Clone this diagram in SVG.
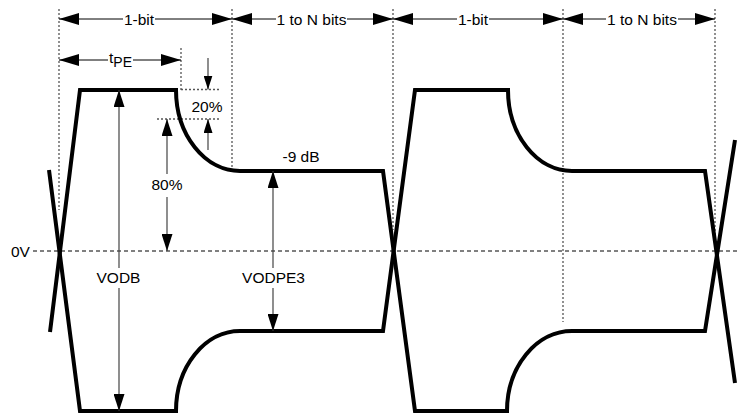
<svg xmlns="http://www.w3.org/2000/svg" width="739" height="413" viewBox="0 0 739 413">
<style>
text{font-family:"Liberation Sans",Arial,sans-serif;font-size:15.5px;fill:#000}
.mid{text-anchor:middle}
.dot{stroke:#555;stroke-width:1.3;stroke-dasharray:2,2;fill:none}
.zero{stroke:#000;stroke-width:1;stroke-dasharray:4,3;fill:none}
.dim{stroke:#000;stroke-width:1;fill:none}
.vdim{stroke:#444;stroke-width:1.2;fill:none}
.wave{stroke:#000;stroke-width:4;fill:none;stroke-linejoin:miter}
</style>
<defs>
<marker id="ah" viewBox="0 0 20 12" refX="20" refY="6" markerWidth="20" markerHeight="12" markerUnits="userSpaceOnUse" orient="auto-start-reverse"><path d="M0,0 L20,6 L0,12 z" fill="#000"/></marker>
<marker id="av" viewBox="0 0 17 11" refX="17" refY="5.5" markerWidth="17" markerHeight="11" markerUnits="userSpaceOnUse" orient="auto-start-reverse"><path d="M0,0 L17,5.5 L0,11 z" fill="#000"/></marker>
<marker id="as" viewBox="0 0 14 9" refX="14" refY="4.5" markerWidth="14" markerHeight="9" markerUnits="userSpaceOnUse" orient="auto-start-reverse"><path d="M0,0 L14,4.5 L0,9 z" fill="#000"/></marker>
</defs>

<g id="guides">
<line class="dot" x1="59" y1="9" x2="59" y2="210"/>
<line class="dot" x1="232" y1="9" x2="232" y2="168"/>
<line class="dot" x1="393" y1="9" x2="393" y2="230"/>
<line class="dot" x1="563" y1="9" x2="563" y2="322"/>
<line class="dot" x1="715" y1="9" x2="715" y2="240"/>
<line class="dot" x1="181" y1="48" x2="181" y2="90"/>
<line class="dot" x1="181" y1="89.5" x2="220" y2="89.5"/>
<line class="dot" x1="157" y1="119" x2="220" y2="119"/>
<line class="zero" x1="33" y1="251" x2="739" y2="251"/>
</g>

<g id="waveform">
<path class="wave" d="M50,332 L80,90 L176,90 A64 81 0 0 0 240 171 L383,171 L415,411 L507,411 A65 80 0 0 1 572 331 L705,331 L735,140"/>
<path class="wave" d="M49,170 L80,411 L176,411 A64 80 0 0 1 240 331 L383,331 L415,90 L508,90 A64 81 0 0 0 572 171 L705,171 L735,383"/>
</g>

<g id="connectors">
<line class="dim" x1="59" y1="19" x2="123" y2="19" marker-start="url(#ah)"/>
<line class="dim" x1="155" y1="19" x2="232" y2="19" marker-end="url(#ah)"/>
<line class="dim" x1="232" y1="19" x2="276" y2="19" marker-start="url(#ah)"/>
<line class="dim" x1="347" y1="19" x2="393" y2="19" marker-end="url(#ah)"/>
<line class="dim" x1="393" y1="19" x2="457" y2="19" marker-start="url(#ah)"/>
<line class="dim" x1="489" y1="19" x2="563" y2="19" marker-end="url(#ah)"/>
<line class="dim" x1="563" y1="19" x2="606" y2="19" marker-start="url(#ah)"/>
<line class="dim" x1="678" y1="19" x2="715" y2="19" marker-end="url(#ah)"/>
<line class="dim" x1="59" y1="60" x2="108" y2="60" marker-start="url(#ah)"/>
<line class="dim" x1="133" y1="60" x2="181" y2="60" marker-end="url(#ah)"/>
<line class="vdim" x1="208" y1="58" x2="208" y2="89.5" marker-end="url(#as)"/>
<line class="vdim" x1="208" y1="150" x2="208" y2="119" marker-end="url(#as)"/>
<line class="vdim" x1="167" y1="119" x2="167" y2="174" marker-start="url(#av)"/>
<line class="vdim" x1="167" y1="197" x2="167" y2="251" marker-end="url(#av)"/>
<line class="vdim" x1="119" y1="90" x2="119" y2="268" marker-start="url(#av)"/>
<line class="vdim" x1="119" y1="288" x2="119" y2="411" marker-end="url(#av)"/>
<line class="vdim" x1="273" y1="171" x2="273" y2="268" marker-start="url(#av)"/>
<line class="vdim" x1="273" y1="288" x2="273" y2="331" marker-end="url(#av)"/>
</g>

<g id="labels">
<text class="mid" x="139" y="24.5">1-bit</text>
<text class="mid" x="311.5" y="24.5">1 to N bits</text>
<text class="mid" x="473" y="24.5">1-bit</text>
<text class="mid" x="642" y="24.5">1 to N bits</text>
<text x="109" y="63">t<tspan font-size="14" dy="4">PE</tspan></text>
<text class="mid" x="207" y="112">20%</text>
<text class="mid" x="167" y="190">80%</text>
<text class="mid" x="301" y="162">-9 dB</text>
<text class="mid" x="118.5" y="283">VODB</text>
<text class="mid" x="273.5" y="283">VODPE3</text>
<text x="11" y="257">0V</text>
</g>
</svg>
